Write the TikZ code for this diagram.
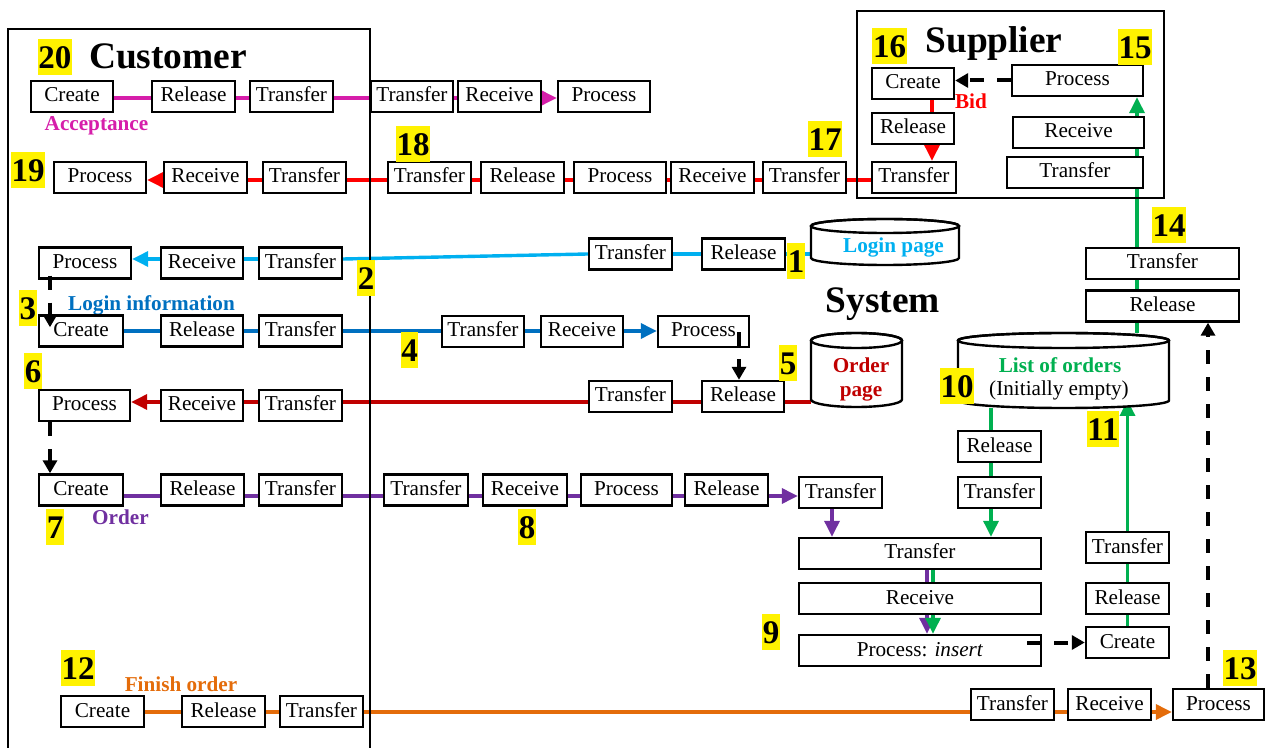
\documentclass[tikz,border=0pt]{standalone}
\usepackage{fontspec}
\setmainfont{Liberation Serif}
\usetikzlibrary{arrows.meta,calc,backgrounds}
\definecolor{cmag}{RGB}{214,30,170}
\definecolor{clblue}{RGB}{0,176,240}
\definecolor{cblue}{RGB}{0,112,192}
\definecolor{cdred}{RGB}{192,0,0}
\definecolor{cred}{RGB}{255,0,0}
\definecolor{cpur}{RGB}{112,48,160}
\definecolor{cgreen}{RGB}{0,176,80}
\definecolor{corange}{RGB}{228,108,10}
\newcommand\mycyl[5]{%
  \pgfmathsetmacro\mycx{(#1+#3)/2}%
  \pgfmathsetmacro\myrx{(#3-#1)/4}%
  \pgfmathsetmacro\myry{#5/2}%
  \draw[cylline, fill=white] (#1,#2+#5) -- (#1,#4-#5)
     arc[start angle=180,end angle=360,x radius=\myrx pt,y radius=\myry pt]
     -- (#3,#2+#5)
     arc[start angle=0,end angle=180,x radius=\myrx pt,y radius=\myry pt] -- cycle;
  \draw[cylline] (\mycx,#2+#5) ellipse[x radius=\myrx pt,y radius=\myry pt];
}
\begin{document}
\begin{tikzpicture}[x=0.5pt,y=-0.5pt,
  bx/.style={draw, line width=1.2pt, fill=white, inner sep=0pt, minimum height=15.5pt,
     text height=8pt, text depth=2.5pt, font=\fontsize{10.6}{12}\selectfont},
  wd/.style={minimum width=#1*0.5pt},
  num/.style={fill=yellow, inner xsep=0.3pt, inner ysep=0pt, minimum height=18pt,
     text height=11.5pt, text depth=0pt, font=\fontsize{16.5}{18}\selectfont\bfseries},
  ttl/.style={inner sep=0pt, anchor=base, font=\fontsize{18.7}{22}\selectfont\bfseries},
  lbl/.style={inner sep=0pt, anchor=base, font=\fontsize{10.6}{12}\selectfont\bfseries},
  txt/.style={inner sep=0pt, anchor=base, font=\fontsize{10.6}{12}\selectfont},
  flow/.style={line width=1.7pt},
  myarrow/.style={-{Triangle[length=8pt,width=7.5pt]}},
  dsh/.style={line width=2pt, dash pattern=on 7pt off 6.5pt, -{Triangle[length=6.5pt,width=7pt]}},
  cylline/.style={line width=1.2pt},
  ghost/.style={inner sep=0pt, draw=none}
]
\useasboundingbox (0,0) rectangle (1269,748);

% actor frames
\draw[line width=1.2pt] (8,760) -- (8,29) -- (370,29) -- (370,760);
\draw[line width=1.2pt] (857,11) rectangle (1164,198);

% data stores
\mycyl{811}{219}{959}{265}{7}
\mycyl{811}{333}{902}{407}{7.5}
\mycyl{958}{333}{1169}{408}{7.5}
\node[ghost, minimum width=74pt, minimum height=23pt] (loginpg) at (885,242) {};
\node[ghost, minimum width=45.5pt, minimum height=37pt] (orderpg) at (856.5,370) {};
\node[ghost, minimum width=105.5pt, minimum height=37.5pt] (list) at (1063.5,370.5) {};

% titles and labels
\node[ttl] (custT) at (168,69) {Customer};
\node[ttl] (supT) at (994,53) {Supplier};
\node[ttl] (sysT) at (883,313) {System};
\node[lbl, text=cmag] (accL) at (96.5,131) {Acceptance};
\node[lbl, text=cblue] (loginL) at (151.5,311) {Login information};
\node[lbl, text=cpur] (ordL) at (120.5,524) {Order};
\node[lbl, text=corange] (finL) at (181,691) {Finish order};
\node[lbl, text=cred] (bidL) at (971,109) {Bid};
\node[lbl, text=clblue] (loginT) at (893.5,252.5) {Login page};
\node[lbl, text=cdred] (ordT1) at (861,373) {Order};
\node[lbl, text=cdred] (ordT2) at (861,397) {page};
\node[lbl, text=cgreen] (listT1) at (1060,373) {List of orders};
\node[txt] (listT2) at (1059,396) {(Initially empty)};

% row 20
\node[bx,wd=82] (c20cr) at (72,96.5) {Create};
\node[bx,wd=83] (c20rl) at (193.5,96.5) {Release};
\node[bx,wd=83] (c20tr) at (291.5,96.5) {Transfer};
\node[bx,wd=82] (s20tr) at (412,96.5) {Transfer};
\node[bx,wd=83] (s20rc) at (499.5,96.5) {Receive};
\node[bx,wd=92] (s20pr) at (604,96.5) {Process};
% row 19
\node[bx,wd=92] (p19) at (100,177.5) {Process};
\node[bx,wd=83] (r19) at (205.5,177.5) {Receive};
\node[bx,wd=83] (t19a) at (304.5,177.5) {Transfer};
\node[bx,wd=83] (t18) at (429.5,177.5) {Transfer};
\node[bx,wd=83] (rl18) at (522.5,177.5) {Release};
\node[bx,wd=92] (pr18) at (620,177.5) {Process};
\node[bx,wd=83] (rc18) at (712.5,177.5) {Receive};
\node[bx,wd=83] (t17) at (804.5,177.5) {Transfer};
\node[bx,wd=84] (supt) at (914,177.5) {Transfer};
% supplier
\node[bx,wd=82] (supc) at (913,83.5) {Create};
\node[bx,wd=82] (suprl) at (913,128.5) {Release};
\node[bx,wd=131] (supp) at (1077.5,80.5) {Process};
\node[bx,wd=131] (suprc) at (1078.5,132.5) {Receive};
\node[bx,wd=136] (supt2) at (1075,172.5) {Transfer};
% login row
\node[bx,wd=92] (p1) at (85,263) {Process};
\node[bx,wd=82] (r1) at (202,263) {Receive};
\node[bx,wd=83] (t1) at (300.5,263) {Transfer};
\node[bx,wd=83] (t2) at (630.5,254) {Transfer};
\node[bx,wd=83] (rl2) at (743.5,254) {Release};
% login information row
\node[bx,wd=84] (cr3) at (81,331) {Create};
\node[bx,wd=82] (rl3) at (202,331) {Release};
\node[bx,wd=83] (t3) at (300.5,331) {Transfer};
\node[bx,wd=82] (t4) at (483,331.5) {Transfer};
\node[bx,wd=82] (rc4) at (582,331.5) {Receive};
\node[bx,wd=91] (pr4) at (703.5,331.5) {Process};
% order page row
\node[bx,wd=91] (p6) at (84.5,405.5) {Process};
\node[bx,wd=82] (r6) at (202,405.5) {Receive};
\node[bx,wd=83] (t6) at (300.5,405.5) {Transfer};
\node[bx,wd=83] (t5) at (630.5,396.5) {Transfer};
\node[bx,wd=82] (rl5) at (743,396.5) {Release};
% order row
\node[bx,wd=84] (cr7) at (81,490) {Create};
\node[bx,wd=83] (rl7) at (202.5,490) {Release};
\node[bx,wd=83] (t7) at (300.5,490) {Transfer};
\node[bx,wd=84] (t8) at (426,490) {Transfer};
\node[bx,wd=84] (rc8) at (525,490) {Receive};
\node[bx,wd=91] (pr8) at (626.5,490) {Process};
\node[bx,wd=83] (rl8) at (726.5,490) {Release};
\node[bx,wd=83] (t9a) at (840.5,492.5) {Transfer};
% list of orders
\node[bx,wd=83] (rl10) at (999.5,446.5) {Release};
\node[bx,wd=83] (t10) at (999.5,492.5) {Transfer};
\node[bx,wd=242] (bigT) at (920,553.5) {Transfer};
\node[bx,wd=242] (bigR) at (920,598.5) {Receive};
\node[bx,wd=242] (bigP) at (920,650.5) {Process: \textit{insert}};
\node[bx,wd=83] (cr11) at (1127.5,642.5) {Create};
\node[bx,wd=83] (rl11) at (1127.5,598.5) {Release};
\node[bx,wd=83] (t11) at (1127.5,547.5) {Transfer};
\node[bx,wd=153] (t14) at (1162.5,263.5) {Transfer};
\node[bx,wd=153] (rl14) at (1162.5,306) {Release};
% finish row
\node[bx,wd=83] (cr12) at (102.5,711.5) {Create};
\node[bx,wd=83] (rl12) at (223.5,711.5) {Release};
\node[bx,wd=83] (t12) at (321.5,711.5) {Transfer};
\node[bx,wd=83] (t13) at (1012.5,704.5) {Transfer};
\node[bx,wd=83] (rc13) at (1109.5,704.5) {Receive};
\node[bx,wd=91] (pr13) at (1218.5,704.5) {Process};

% step numbers
\node[num] (n20) at (55,57) {20};
\node[num] (n19) at (28,170) {19};
\node[num] (n18) at (413,144) {18};
\node[num] (n17) at (825,139) {17};
\node[num] (n16) at (889.5,46.5) {16};
\node[num] (n15) at (1135,47) {15};
\node[num] (n14) at (1169,225) {14};
\node[num] (n2) at (366,278) {2};
\node[num] (n1) at (796,261) {1};
\node[num] (n3) at (28,308) {3};
\node[num] (n4) at (409.5,350) {4};
\node[num] (n5) at (788,363.5) {5};
\node[num] (n6) at (33,371.5) {6};
\node[num] (n7) at (55,527) {7};
\node[num] (n8) at (527,527) {8};
\node[num] (n9) at (771,632) {9};
\node[num] (n10) at (957,386.5) {10};
\node[num] (n11) at (1103,429.5) {11};
\node[num] (n12) at (78,668) {12};
\node[num] (n13) at (1240,668) {13};

% helper coordinates
\coordinate (yA) at (0,98);
\coordinate (yB) at (0,180);
\coordinate (yCs) at (0,254);
\coordinate (yCc) at (0,259);
\coordinate (yD) at (0,331);
\coordinate (yE) at (0,402);
\coordinate (yF) at (0,496);
\coordinate (yG) at (0,712);
\coordinate (xbid) at (932,0);
\coordinate (xg1) at (991,0);
\coordinate (xpu0) at (832,0);
\coordinate (xpu) at (927,0);
\coordinate (xg2) at (933,0);
\coordinate (xg4) at (1137,0);
\coordinate (xd1) at (50,0);
\coordinate (xd2) at (739,0);
\coordinate (xd3) at (1208,0);
\coordinate (ltip) at (0,400);

\begin{scope}[on background layer]
% acceptance (magenta)
\foreach \a/\b in {c20cr/c20rl, c20rl/c20tr, c20tr/s20tr, s20tr/s20rc}
  \draw[flow,cmag] (\a.east |- yA) -- (\b.west |- yA);
\draw[flow,cmag,myarrow] (s20rc.east |- yA) -- (s20pr.west |- yA);
% bid (red)
\draw[flow,cred] (supc.south -| xbid) -- (suprl.north -| xbid);
\draw[flow,cred,myarrow] (suprl.south -| xbid) -- (supt.north -| xbid);
\foreach \a/\b in {supt/t17, t17/rc18, rc18/pr18, pr18/rl18, rl18/t18, t18/t19a, t19a/r19}
  \draw[flow,cred] (\a.west |- yB) -- (\b.east |- yB);
\draw[flow,cred,myarrow] (r19.west |- yB) -- (p19.east |- yB);
% login page (light blue)
\draw[flow,clblue] (loginpg.west |- yCs) -- (rl2.east |- yCs);
\draw[flow,clblue] (rl2.west |- yCs) -- (t2.east |- yCs);
\draw[flow,clblue] (t2.west |- yCs) -- (t1.east |- yCc);
\draw[flow,clblue] (t1.west |- yCc) -- (r1.east |- yCc);
\draw[flow,clblue,myarrow] (r1.west |- yCc) -- (p1.east |- yCc);
% login information (blue)
\foreach \a/\b in {cr3/rl3, rl3/t3, t3/t4, t4/rc4}
  \draw[flow,cblue] (\a.east |- yD) -- (\b.west |- yD);
\draw[flow,cblue,myarrow] (rc4.east |- yD) -- (pr4.west |- yD);
% order page (dark red)
\draw[flow,cdred] (orderpg.west |- yE) -- (rl5.east |- yE);
\foreach \a/\b in {rl5/t5, t5/t6, t6/r6}
  \draw[flow,cdred] (\a.west |- yE) -- (\b.east |- yE);
\draw[flow,cdred,myarrow] (r6.west |- yE) -- (p6.east |- yE);
% order (purple)
\foreach \a/\b in {cr7/rl7, rl7/t7, t7/t8, t8/rc8, rc8/pr8, pr8/rl8}
  \draw[flow,cpur] (\a.east |- yF) -- (\b.west |- yF);
\draw[flow,cpur,myarrow] (rl8.east |- yF) -- (t9a.west |- yF);
\draw[flow,cpur,myarrow] (t9a.south -| xpu0) -- (bigT.north -| xpu0);
\draw[flow,cpur] (bigT.south -| xpu) -- (bigR.north -| xpu);
\draw[flow,cpur,myarrow] (bigR.south -| xpu) -- (bigP.north -| xpu);
% list of orders (green)
\draw[flow,cgreen] (list.south -| xg1) -- (rl10.north -| xg1);
\draw[flow,cgreen] (rl10.south -| xg1) -- (t10.north -| xg1);
\draw[flow,cgreen,myarrow] (t10.south -| xg1) -- (bigT.north -| xg1);
\draw[flow,cgreen] (bigT.south -| xg2) -- (bigR.north -| xg2);
\draw[flow,cgreen,myarrow] (bigR.south -| xg2) -- (bigP.north -| xg2);
\draw[flow,cgreen] (cr11.north) -- (rl11.south);
\draw[flow,cgreen] (rl11.north) -- (t11.south);
\draw[flow,cgreen,myarrow] (t11.north) -- (t11.north |- ltip);
\draw[flow,cgreen,myarrow] (list.north -| xg4) -- (supp.south -| xg4);
% finish order (orange)
\foreach \a/\b in {cr12/rl12, rl12/t12, t12/t13, t13/rc13}
  \draw[flow,corange] (\a.east |- yG) -- (\b.west |- yG);
\draw[flow,corange,myarrow] (rc13.east |- yG) -- (pr13.west |- yG);
\end{scope}

% control flow (dashed black)
\draw[dsh] ($(p1.south -| xd1)+(0,-4)$) -- ($(cr3.north -| xd1)+(0,13)$);
\draw[dsh] (p6.south -| xd1) -- (cr7.north -| xd1);
\draw[dsh] ($(pr4.south -| xd2)+(0,-16)$) -- (rl5.north -| xd2);
\draw[dsh] ($(bigP.east |- cr11.west)+(-15,0)$) -- (cr11.west);
\draw[dsh] (pr13.north -| xd3) -- (rl14.south -| xd3);
\draw[dsh] (supp.west) -- (supp.west -| supc.east);
\end{tikzpicture}
\end{document}
